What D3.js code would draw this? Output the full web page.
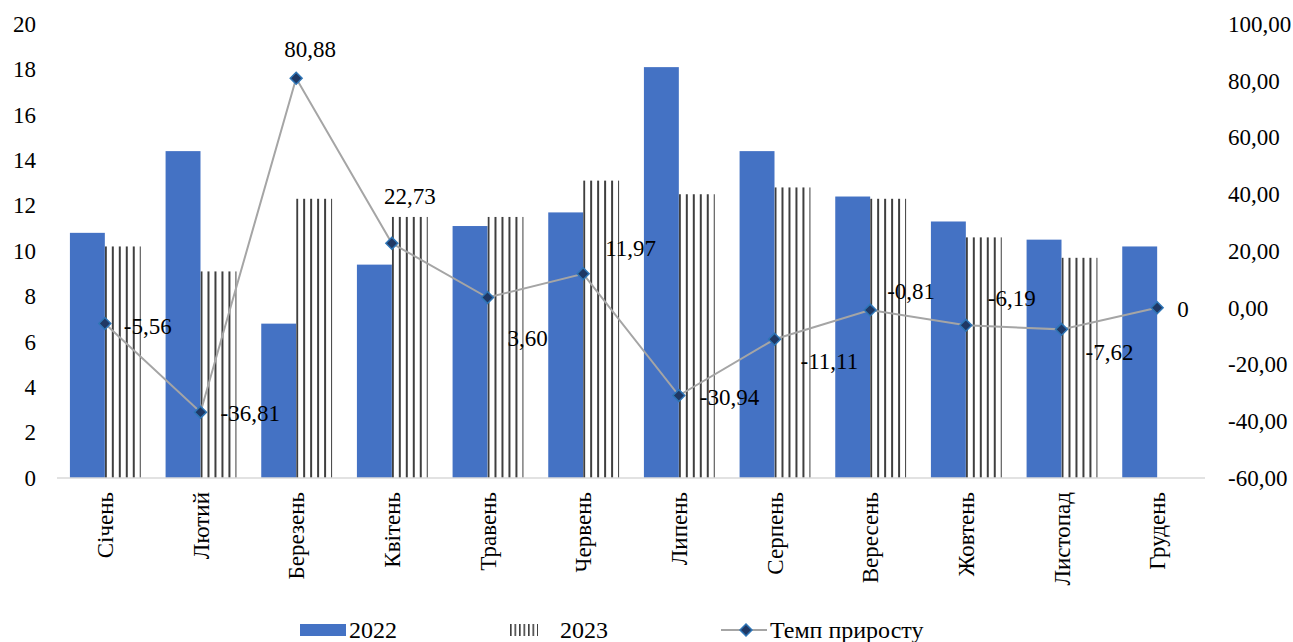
<!DOCTYPE html>
<html>
<head>
<meta charset="utf-8">
<script src="https://cdn.jsdelivr.net/npm/d3@7"></script>
</head>
<body style="margin:0; background:#fff">
<div id="chart"></div>
<script>
// months
const months = ["Січень", "Лютий", "Березень", "Квітень", "Травень", "Червень",
                "Липень", "Серпень", "Вересень", "Жовтень", "Листопад", "Грудень"];
// 2022 values
const values2022 = [10.8, 14.4, 6.8, 9.4, 11.1, 11.7, 18.1, 14.4, 12.4, 11.3, 10.5, 10.2];
// 2023 values (no December)
const values2023 = [10.2, 9.1, 12.3, 11.5, 11.5, 13.1, 12.5, 12.8, 12.3, 10.6, 9.7, null];
// growth rate, %
const growth = [-5.56, -36.81, 80.88, 22.73, 3.60, 11.97, -30.94, -11.11, -0.81, -6.19, -7.62, 0];
const growthLabels = ["-5,56", "-36,81", "80,88", "22,73", "3,60", "11,97",
                      "-30,94", "-11,11", "-0,81", "-6,19", "-7,62", "0"];
const leftTicks = [0, 2, 4, 6, 8, 10, 12, 14, 16, 18, 20];
const rightTicks = [-60, -40, -20, 0, 20, 40, 60, 80, 100];

// data label offsets from the marker, [dx, dy, anchor] (layout only)
const labelOffsets = [
    [19, 10, "start"], [20, 9, "start"], [14, -21, "middle"], [18, -39, "middle"],
    [20, 48, "start"], [22, -18, "start"], [21, 9, "start"], [26, 30, "start"],
    [17, -11, "start"], [22, -19, "start"], [24, 31, "start"], [20, 9, "start"]
];

const width = 1293, height = 642;
const margin = { left: 57, right: 88, top: 24, bottom: 164 };
const FONT = '"Liberation Serif"';
const FS = 23;

const svg = d3.select("#chart")
    .append("svg")
    .attr("width", width)
    .attr("height", height);

const defs = svg.append("defs");

const x = d3.scaleBand()
    .domain(months)
    .range([margin.left, width - margin.right])
    .paddingInner(0.27)
    .paddingOuter(0.135);

const yL = d3.scaleLinear().domain([0, 20]).range([height - margin.bottom, margin.top]);
const yR = d3.scaleLinear().domain([-60, 100]).range([height - margin.bottom, margin.top]);

const half = x.bandwidth() / 2;

// striped pattern anchored at a given x so lines sit on the bar edges
function stripes(id, x0, step, w, color) {
    defs.append("pattern")
        .attr("id", id)
        .attr("patternUnits", "userSpaceOnUse")
        .attr("x", x0)
        .attr("width", step)
        .attr("height", 10)
        .append("rect")
        .attr("width", w)
        .attr("height", 10)
        .attr("fill", color);
    return `url(#${id})`;
}

// bars 2022
svg.append("g").selectAll("rect")
    .data(values2022)
    .join("rect")
    .attr("x", (d, i) => x(months[i]))
    .attr("y", d => yL(d))
    .attr("width", half)
    .attr("height", d => yL(0) - yL(d))
    .attr("fill", "#4472c4");

// bars 2023
svg.append("g").selectAll("rect")
    .data(values2023.map((v, i) => ({ v, i })).filter(d => d.v != null))
    .join("rect")
    .attr("x", d => x(months[d.i]) + half)
    .attr("y", d => yL(d.v))
    .attr("width", half + 1)
    .attr("height", d => yL(0) - yL(d.v))
    .attr("fill", d => stripes("vl" + d.i, x(months[d.i]) + half, half / 5, 2, "#3f3f3f"));

// baseline
svg.append("line")
    .attr("x1", margin.left).attr("x2", width - margin.right)
    .attr("y1", yL(0)).attr("y2", yL(0))
    .attr("stroke", "#d9d9d9").attr("stroke-width", 1.5);

// left axis
const leftAxis = svg.append("g")
    .attr("transform", `translate(${margin.left - 21},0)`)
    .call(d3.axisLeft(yL).tickValues(leftTicks).tickSize(0).tickPadding(0));
leftAxis.select(".domain").remove();

// right axis
const rightAxis = svg.append("g")
    .attr("transform", `translate(${width - margin.right + 23},0)`)
    .call(d3.axisRight(yR).tickValues(rightTicks).tickSize(0).tickPadding(0)
        .tickFormat(d => d3.format(".2f")(d).replace(".", ",").replace("−", "-")));
rightAxis.select(".domain").remove();

// month labels
svg.append("g").selectAll("text")
    .data(months)
    .join("text")
    .attr("transform", d => `translate(${x(d) + half + 8},${yL(0) + 14}) rotate(-90)`)
    .attr("text-anchor", "end")
    .text(d => d);

// growth line
const cx = i => x(months[i]) + half;
const line = d3.line().x((d, i) => cx(i)).y(d => yR(d));
svg.append("path")
    .datum(growth)
    .attr("d", line)
    .attr("fill", "none")
    .attr("stroke", "#a5a5a5")
    .attr("stroke-width", 2);

const diamond = d3.symbol().type(d3.symbolDiamond2).size(90);
svg.append("g").selectAll("path")
    .data(growth)
    .join("path")
    .attr("d", diamond)
    .attr("transform", (d, i) => `translate(${cx(i)},${yR(d)})`)
    .attr("fill", "#1f3864")
    .attr("stroke", "#2e75b6")
    .attr("stroke-width", 1.5);

// data labels
svg.append("g").selectAll("text")
    .data(growth)
    .join("text")
    .attr("x", (d, i) => cx(i) + labelOffsets[i][0])
    .attr("y", (d, i) => yR(d) + labelOffsets[i][1])
    .attr("text-anchor", (d, i) => labelOffsets[i][2])
    .text((d, i) => growthLabels[i]);

// legend
const lg = svg.append("g").attr("transform", "translate(0,630)");
lg.append("rect").attr("x", 300).attr("y", -6).attr("width", 46).attr("height", 12).attr("fill", "#4472c4");
lg.append("text").attr("x", 349).attr("y", 8).text("2022");
lg.append("rect").attr("x", 510).attr("y", -6).attr("width", 28).attr("height", 12)
    .attr("fill", stripes("vleg", 510, 4.5, 1.6, "#3f3f3f"));
lg.append("text").attr("x", 560).attr("y", 8).text("2023");
lg.append("line").attr("x1", 721).attr("x2", 767).attr("y1", 0).attr("y2", 0)
    .attr("stroke", "#a5a5a5").attr("stroke-width", 2);
lg.append("path").attr("d", diamond).attr("transform", "translate(746,0)")
    .attr("fill", "#1f3864").attr("stroke", "#2e75b6").attr("stroke-width", 1.5);
lg.append("text").attr("x", 770).attr("y", 8).text("Темп приросту");

// all text: Times-like serif
svg.selectAll("g").attr("font-family", null).attr("font-size", null);
svg.selectAll("text")
    .style("font-family", FONT)
    .style("font-size", FS + "px")
    .attr("fill", "#000");
lg.selectAll("text").style("font-size", "24px");
</script>
</body>
</html>
